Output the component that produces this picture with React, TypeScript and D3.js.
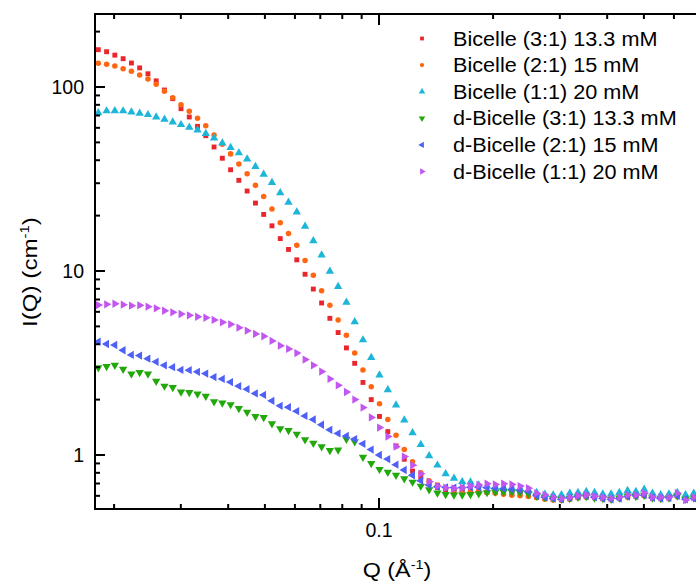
import React from 'react';
import * as d3 from 'd3';

const Q = [
  0.01817, 0.01911, 0.02009, 0.02113, 0.02222, 0.02336, 0.02457, 0.02583, 0.02716, 0.02856,
  0.03003, 0.03158, 0.0332, 0.03491, 0.03671, 0.0386, 0.04059, 0.04268, 0.04488, 0.04721,
  0.04963, 0.05219, 0.05488, 0.05771, 0.06068, 0.06381, 0.0671, 0.07056, 0.0742, 0.07802,
  0.08204, 0.08627, 0.09072, 0.09539, 0.1003, 0.1055, 0.1109, 0.1166, 0.1226, 0.1289,
  0.1356, 0.1426, 0.1499, 0.1577, 0.1658, 0.1743, 0.1833, 0.1927, 0.2027, 0.2131,
  0.2241, 0.2356, 0.2478, 0.2606, 0.274, 0.2881, 0.303, 0.3186, 0.335, 0.3523,
  0.3704, 0.3895, 0.4096, 0.4307, 0.4529, 0.4762, 0.5008, 0.5266, 0.5538, 0.5823,
  0.6123, 0.6439, 0.6771,
];

const bicelle31 = [
  159.5, 155.5, 149, 142.5, 135, 127, 118, 108, 96.3, 86.4, 76.2, 68.7, 61.1, 54.4, 47.2, 41.0, 35.5, 31.1, 27.2, 23.4, 20.3, 17.6, 15.0, 13.1, 11.5,
  9.6, 7.98, 6.7, 5.53, 4.63, 3.82, 3.15, 2.48, 2.0, 1.62, 1.34, 1.12, 0.948, 0.818,
  0.76, 0.7, 0.665, 0.645, 0.635, 0.632, 0.63, 0.632, 0.628, 0.625, 0.62, 0.615, 0.61, 0.6, 0.59, 0.58, 0.575, 0.572,
  0.58, 0.59, 0.595, 0.59, 0.58, 0.578, 0.585, 0.595, 0.6, 0.605, 0.59, 0.585, 0.59, 0.6, 0.58, 0.59,
];

const bicelle21 = [
  134.5, 132.9, 130, 125.7, 121.7, 116.2, 110.5, 103.4, 94.7, 87.5, 80.1, 73.8, 67.6, 61.6, 54.8, 48.8, 43.3, 38.2, 33.8, 29.2, 25.4, 21.7, 18.3, 16.0, 13.8,
  11.4, 9.47, 7.81, 6.51, 5.42, 4.48, 3.58, 2.9, 2.35, 1.9, 1.56, 1.28, 1.07, 0.92, 0.8, 0.725, 0.687,
  0.66, 0.645, 0.64, 0.635, 0.63, 0.628, 0.62, 0.612, 0.605, 0.6, 0.595, 0.585, 0.575, 0.57, 0.568, 0.575,
  0.585, 0.59, 0.585, 0.578, 0.575, 0.58, 0.59, 0.595, 0.6, 0.59, 0.585, 0.588, 0.595, 0.578, 0.585,
];

const bicelle11 = [
  72.3, 74.1, 74.3, 74.1, 73.1, 72.0, 70.7, 68.7, 66.7, 64.5, 62.4, 60.4, 58.4, 55.8, 52.8, 49.6, 46.8, 43.8, 40.6, 36.9, 33.5, 30.2, 26.6, 23.6, 20.9,
  17.5, 14.6, 12.2, 9.96, 8.22, 6.76, 5.3, 4.22, 3.38, 2.72, 2.26, 1.87, 1.55, 1.32, 1.14, 0.99, 0.88, 0.79, 0.747, 0.716, 0.713, 0.687, 0.678,
  0.67, 0.665, 0.66, 0.655, 0.645, 0.625, 0.612, 0.605, 0.607, 0.62, 0.625, 0.633, 0.625, 0.614, 0.614, 0.625, 0.64, 0.633, 0.65, 0.62, 0.607, 0.614, 0.625, 0.607, 0.62,
];

const dBicelle31 = [
  2.98, 3.03, 3.08, 2.93, 2.76, 2.81, 2.76, 2.52, 2.37, 2.33, 2.2, 2.19, 2.15, 2.09, 1.95, 1.92, 1.88, 1.79, 1.71, 1.62, 1.6, 1.48, 1.39, 1.36, 1.3,
  1.21, 1.16, 1.11, 1.06, 1.065, 1.22, 1.18, 0.973, 0.9, 0.836, 0.806, 0.776, 0.743, 0.713, 0.678, 0.648, 0.622, 0.61, 0.607, 0.607, 0.61, 0.617, 0.625, 0.63,
  0.63, 0.63, 0.625, 0.615, 0.6, 0.59, 0.58, 0.575, 0.58, 0.59, 0.595, 0.585, 0.58, 0.575, 0.585, 0.6, 0.595, 0.605, 0.585, 0.58, 0.585, 0.6, 0.575, 0.585,
];

const dBicelle21 = [
  4.13, 4.01, 3.96, 3.71, 3.5, 3.47, 3.34, 3.21, 3.07, 3.0, 2.9, 2.89, 2.83, 2.77, 2.65, 2.59, 2.49, 2.37, 2.28, 2.16, 2.12, 1.97, 1.85, 1.82, 1.73,
  1.63, 1.56, 1.46, 1.37, 1.31, 1.27, 1.22, 1.15, 1.07, 1.0, 0.95, 0.886, 0.829, 0.776, 0.725, 0.687, 0.672, 0.667,
  0.665, 0.665, 0.668, 0.668, 0.665, 0.66, 0.655, 0.65, 0.645, 0.635, 0.6, 0.59, 0.58, 0.575, 0.585, 0.595, 0.6, 0.59, 0.58, 0.575, 0.58, 0.595, 0.6, 0.605, 0.585, 0.58, 0.585, 0.6, 0.575, 0.58,
];

const dBicelle11 = [
  6.53, 6.59, 6.64, 6.56, 6.48, 6.51, 6.4, 6.27, 6.08, 5.96, 5.84, 5.74, 5.64, 5.57, 5.42, 5.26, 5.13, 4.92, 4.74, 4.55, 4.42, 4.17, 3.93, 3.77, 3.58,
  3.3, 3.07, 2.84, 2.59, 2.39, 2.2, 2.0, 1.81, 1.6, 1.41, 1.26, 1.11, 0.98, 0.88, 0.79, 0.716, 0.678, 0.664, 0.659, 0.664, 0.678, 0.687, 0.698,
  0.692, 0.698, 0.692, 0.678, 0.66, 0.62, 0.607, 0.589, 0.582, 0.589, 0.601, 0.607, 0.596, 0.589, 0.582, 0.589, 0.607, 0.607, 0.62, 0.589, 0.589, 0.589, 0.62, 0.569, 0.589,
];

const seriesNames = [
  'Bicelle (3:1) 13.3 mM',
  'Bicelle (2:1) 15 mM',
  'Bicelle (1:1) 20 mM',
  'd-Bicelle (3:1) 13.3 mM',
  'd-Bicelle (2:1) 15 mM',
  'd-Bicelle (1:1) 20 mM',
];
const seriesValues = [bicelle31, bicelle21, bicelle11, dBicelle31, dBicelle21, dBicelle11];
const seriesColors = ['#e8262c', '#ff6612', '#1db5d8', '#22a80a', '#4f60f6', '#c257f0'];
const seriesShapes = ['square', 'circle', 'up', 'down', 'left', 'right'];

const yTickLabels = ['1', '10', '100'];
const xTickLabels = ['0.1'];

const W = 696;
const H = 583;
const PL = 95;
const PT = 14;
const PB = 509;
const PR = 760;

function symbolPath(shape: string, scale: number) {
  let type: any = d3.symbolTriangle;
  let size = 30;
  if (shape === 'square') { type = d3.symbolSquare; size = 24; }
  else if (shape === 'circle') { type = d3.symbolCircle; size = 24; }
  return d3.symbol().type(type).size(size * scale)() as string;
}
function rot(shape: string) {
  if (shape === 'down') return 180;
  if (shape === 'left') return -90;
  if (shape === 'right') return 90;
  return 0;
}

export default function App() {
  const x = d3.scaleLog().domain([0.01, 1]).range([0, 758]);
  const y = d3.scaleLog().domain([1, 100]).range([455, 87]);

  const xTicks = d3.scaleLog().domain([0.018, 0.7]).ticks().filter((t) => x(t) >= PL + 2 && x(t) <= W + 5);
  const yTicks = d3.scaleLog().domain([0.5, 250]).ticks().filter((t) => y(t) <= PB - 2 && y(t) >= PT + 2);
  const isMajor = (t: number) => Math.abs(Math.log10(t) - Math.round(Math.log10(t))) < 1e-6;

  const font = 'Liberation Sans, Arial, sans-serif';

  return (
    <svg width={W} height={H} style={{ position: 'absolute', left: 0, top: 0, background: '#fff' }} fontFamily={font}>
      <defs>
        <clipPath id="plotclip">
          <rect x={PL} y={PT} width={PR - PL} height={PB - PT} />
        </clipPath>
      </defs>
      <rect x={0} y={0} width={W} height={H} fill="#fff" />
      <g clipPath="url(#plotclip)">
        {seriesValues.map((vals, si) => {
          const p = symbolPath(seriesShapes[si], 1);
          const r = rot(seriesShapes[si]);
          return (
            <g key={si} fill={seriesColors[si]}>
              {vals.map((v, i) => (
                <path key={i} d={p} transform={`translate(${x(Q[i])},${y(v)}) rotate(${r})`} />
              ))}
            </g>
          );
        })}
      </g>
      <g stroke="#000" strokeWidth={2} fill="none">
        <line x1={PL} y1={PT} x2={PL} y2={PB + 1} />
        <line x1={PL - 1} y1={PB} x2={W} y2={PB} />
        <line x1={PL - 1} y1={PT} x2={W} y2={PT} />
        {xTicks.map((t, i) => {
          const len = isMajor(t) ? 11 : 5;
          return (
            <g key={i}>
              <line x1={x(t)} x2={x(t)} y1={PB} y2={PB - len} />
              <line x1={x(t)} x2={x(t)} y1={PT} y2={PT + len} />
            </g>
          );
        })}
        {yTicks.map((t, i) => {
          const len = isMajor(t) ? 10 : 5;
          return <line key={i} x1={PL} x2={PL + len} y1={y(t)} y2={y(t)} />;
        })}
      </g>
      {yTickLabels.map((l) => (
        <text key={l} x={84} y={y(+l)} dy="0.36em" textAnchor="end" fontSize={19.5} fill="#000">
          {l}
        </text>
      ))}
      {xTickLabels.map((l) => (
        <text key={l} x={x(+l)} y={537} textAnchor="middle" fontSize={19.5} fill="#000">
          {l}
        </text>
      ))}
      <text transform="translate(397,577) scale(1.11,1)" textAnchor="middle" fontSize={21} fill="#000">
        Q (Å<tspan dy={-8} fontSize={13}>-1</tspan><tspan dy={8}>)</tspan>
      </text>
      <text transform="translate(37,272) rotate(-90) scale(1.15,1)" textAnchor="middle" fontSize={21} fill="#000">
        I(Q) (cm<tspan dy={-8} fontSize={13}>-1</tspan><tspan dy={8}>)</tspan>
      </text>
      {seriesNames.map((n, i) => {
        const cy = 38.5 + i * 26.6;
        return (
          <g key={n}>
            <path d={symbolPath(seriesShapes[i], 0.6)} transform={`translate(422,${cy}) rotate(${rot(seriesShapes[i])})`} fill={seriesColors[i]} />
            <text transform={`translate(453,${cy + 7}) scale(1.11,1)`} fontSize={19.5} fill="#000">{n}</text>
          </g>
        );
      })}
    </svg>
  );
}
